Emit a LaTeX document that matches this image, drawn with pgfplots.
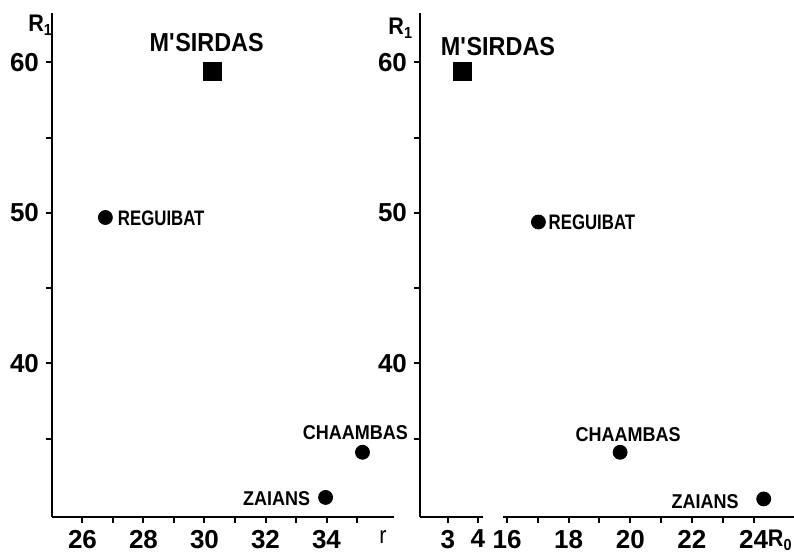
\documentclass[border=0pt]{standalone}
\usepackage{pgfplots}
\pgfplotsset{compat=1.18}
\usepackage{fontspec}
\setmainfont{Liberation Sans}
\newfontfamily\lab[FakeStretch=0.9]{Liberation Sans}
\newfontfamily\labn[FakeStretch=0.8]{Liberation Sans}
\tikzset{lbl/.style={font=\lab\bfseries\fontsize{#1}{#1}\selectfont, inner sep=0pt}}
\begin{document}
\begin{tikzpicture}
\useasboundingbox (0pt,0pt) rectangle (397pt,279pt);
\pgfplotsset{
 base/.style={
  scale only axis, anchor=south west,
  ymin=29.8, ymax=63.3, height=252.1pt,
  axis x line*=bottom,
  axis line style={-, line width=1.4pt},
  tick align=outside,
  major tick length=3pt, minor tick length=3pt,
  every tick/.style={black, line width=1pt},
  tick label style={font=\bfseries\fontsize{13}{13}\selectfont},
  /pgf/number format/assume math mode=true,
  clip=false,
 },
}
% left panel
\begin{axis}[base, at={(26pt,20.5pt)}, width=170.8pt, xmin=25, xmax=36.2,
  axis y line*=left,
  xtick={26,28,...,34}, minor xtick={27,29,...,35},
  ytick={40,50,60}, minor ytick={35,45,55}]
\addplot[only marks, mark=square*, mark size=4.5pt, black] coordinates {(30.26,59.4)};
\addplot[only marks, mark=*, mark size=3.5pt, black] coordinates {(26.75,49.7) (35.18,34.1) (33.97,31.1)};
\node[lbl=13] at (axis cs:30.07,61.3) {M\textquotesingle SIRDAS};
\node[inner sep=0pt, font=\labn\bfseries\fontsize{10.5}{10.5}\selectfont, anchor=west] at (axis cs:27.15,49.67) {REGUIBAT};
\node[lbl=10] at (axis cs:34.95,35.4) {CHAAMBAS};
\node[lbl=10, anchor=east] at (axis cs:33.48,31.0) {ZAIANS};
\end{axis}
% right panel, first segment
\begin{axis}[base, at={(210pt,20.5pt)}, width=31.5pt, xmin=2.07, xmax=4.17,
  axis y line*=left,
  xtick={3,4},
  ytick={40,50,60}, minor ytick={35,45,55}]
\addplot[only marks, mark=square*, mark size=4.5pt, black] coordinates {(3.47,59.4)};
\node[lbl=13] at (axis cs:4.67,61.06) {M\textquotesingle SIRDAS};
\end{axis}
% right panel, second segment
\begin{axis}[base, at={(251.5pt,20.5pt)}, width=145.3pt, xmin=15.87, xmax=25.3,
  axis y line=none, ytick=\empty,
  xtick={16,18,...,24}, minor xtick={17,19,...,23}]
\addplot[only marks, mark=*, mark size=3.5pt, black] coordinates {(17.02,49.4) (19.67,34.1) (24.33,31.0)};
\node[inner sep=0pt, font=\labn\bfseries\fontsize{10.5}{10.5}\selectfont, anchor=west] at (axis cs:17.34,49.4) {REGUIBAT};
\node[lbl=10] at (axis cs:19.93,35.3) {CHAAMBAS};
\node[lbl=10] at (axis cs:22.43,30.8) {ZAIANS};
\end{axis}
\node[anchor=base, inner sep=0pt, font=\lab\fontsize{12}{12}\selectfont] at (191.5pt,7.5pt) {r};
\node[anchor=base east, inner sep=0pt, font=\lab\bfseries\fontsize{12}{12}\selectfont] at (396.5pt,5.5pt) {R\textsubscript{0}};
\node[anchor=base west, inner sep=0pt, font=\lab\bfseries\fontsize{12}{12}\selectfont] at (14pt,263pt) {R\textsubscript{1}};
\node[anchor=base west, inner sep=0pt, font=\lab\bfseries\fontsize{12}{12}\selectfont] at (194pt,261.5pt) {R\textsubscript{1}};
\end{tikzpicture}
\end{document}
